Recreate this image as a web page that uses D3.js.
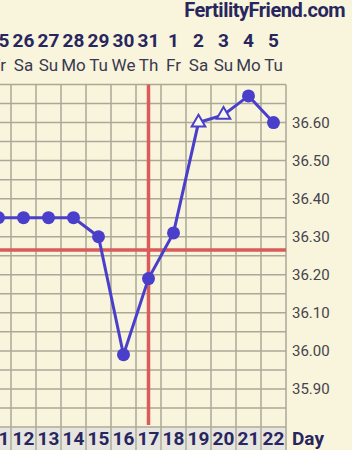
<!DOCTYPE html>
<html>
<head>
<meta charset="utf-8">
<script src="https://cdn.jsdelivr.net/npm/d3@7"></script>
<style>
  html, body { margin: 0; padding: 0; background: #f9f4dc; }
  svg { display: block; font-family: Roboto, "Noto Sans", sans-serif; }
</style>
</head>
<body>
<div id="chart"></div>
<script>
// chart data
var days = [11, 12, 13, 14, 15, 16, 17, 18, 19, 20, 21, 22];
var dates = ["25", "26", "27", "28", "29", "30", "31", "1", "2", "3", "4", "5"];
var weekdays = ["Fr", "Sa", "Su", "Mo", "Tu", "We", "Th", "Fr", "Sa", "Su", "Mo", "Tu"];
var temps = [36.35, 36.35, 36.35, 36.35, 36.30, 35.99, 36.19, 36.31, 36.60, 36.62, 36.67, 36.60];
var markers = ["circle", "circle", "circle", "circle", "circle", "circle", "circle", "circle", "triangle", "triangle", "circle", "circle"];
var yTicks = [35.90, 36.00, 36.10, 36.20, 36.30, 36.40, 36.50, 36.60];
var coverLine = 36.265;
var ovulationDay = 17;

var width = 352, height = 450;
var plot = {left: -14, right: 286, top: 84.5, bottom: 427};

var svg = d3.select("#chart").append("svg")
    .attr("width", width)
    .attr("height", height);

svg.append("rect")
    .attr("width", width)
    .attr("height", height)
    .attr("fill", "#f9f4dc");

var x = d3.scaleLinear()
    .domain([10.5, 22.5])
    .range([plot.left, plot.right]);

var y = d3.scaleLinear()
    .domain([35.8, 36.7])
    .range([plot.bottom, plot.top]);

// grid
var grid = svg.append("g")
    .attr("stroke", "#aba898")
    .attr("stroke-width", 1.5);

grid.selectAll(".vline")
    .data(d3.range(10.5, 23.5, 1))
    .enter().append("line")
    .attr("class", "vline")
    .attr("x1", function(d) { return x(d); })
    .attr("x2", function(d) { return x(d); })
    .attr("y1", plot.top)
    .attr("y2", height);

grid.selectAll(".hline")
    .data(d3.range(0, 19).map(function(i) { return 35.8 + i * 0.05; }))
    .enter().append("line")
    .attr("class", "hline")
    .attr("x1", 0)
    .attr("x2", plot.right)
    .attr("y1", function(d) { return y(d); })
    .attr("y2", function(d) { return y(d); });

// day row at bottom
var dayRow = svg.append("g");
dayRow.selectAll("rect")
    .data(days)
    .enter().append("rect")
    .attr("x", function(d) { return x(d - 0.5) + 1; })
    .attr("y", plot.bottom + 1)
    .attr("width", x(1) - x(0) - 2)
    .attr("height", height - plot.bottom)
    .attr("fill", "#e6e5df");

dayRow.selectAll("text")
    .data(days)
    .enter().append("text")
    .attr("x", function(d) { return x(d); })
    .attr("y", 445)
    .attr("text-anchor", "middle")
    .attr("font-size", 19)
    .attr("font-weight", "bold")
    .attr("fill", "#27265e")
    .text(function(d) { return d; });

svg.append("text")
    .attr("x", 292)
    .attr("y", 445)
    .attr("font-size", 19)
    .attr("font-weight", "bold")
    .attr("fill", "#27265e")
    .text("Day");

// y axis labels
var yAxis = d3.axisRight(y)
    .tickValues(yTicks)
    .tickSize(0)
    .tickPadding(6)
    .tickFormat(d3.format(".2f"));

svg.append("g")
    .attr("class", "y-axis")
    .attr("transform", "translate(" + plot.right + ",0)")
    .call(yAxis)
    .call(function(g) { g.select(".domain").remove(); })
    .selectAll("text")
    .attr("font-size", 15)
    .attr("font-family", "Roboto, sans-serif")
    .attr("fill", "#45444c");

// top header
svg.selectAll(".date")
    .data(days)
    .enter().append("text")
    .attr("class", "date")
    .attr("x", function(d) { return x(d); })
    .attr("y", 47)
    .attr("text-anchor", "middle")
    .attr("font-size", 19)
    .attr("font-weight", "bold")
    .attr("fill", "#27265e")
    .text(function(d, i) { return dates[i]; });

svg.selectAll(".wday")
    .data(days)
    .enter().append("text")
    .attr("class", "wday")
    .attr("x", function(d) { return x(d); })
    .attr("y", 71)
    .attr("text-anchor", "middle")
    .attr("font-size", 17)
    .attr("fill", "#3a3950")
    .text(function(d, i) { return weekdays[i]; });

svg.append("text")
    .attr("x", 345)
    .attr("y", 17)
    .attr("text-anchor", "end")
    .attr("font-size", 20)
    .attr("font-weight", "bold")
    .attr("letter-spacing", -0.5)
    .attr("fill", "#27265e")
    .text("FertilityFriend.com");

// cover line and ovulation line
svg.append("line")
    .attr("x1", 0)
    .attr("x2", plot.right)
    .attr("y1", y(coverLine))
    .attr("y2", y(coverLine))
    .attr("stroke", "#d95c5a")
    .attr("stroke-width", 3.5);

svg.append("line")
    .attr("x1", x(ovulationDay))
    .attr("x2", x(ovulationDay))
    .attr("y1", plot.top)
    .attr("y2", plot.bottom - 2)
    .attr("stroke", "#d95c5a")
    .attr("stroke-width", 3.5);

// temperature line
var pts = days.map(function(d, i) {
    return {day: d, temp: temps[i], marker: markers[i]};
});

var line = d3.line()
    .x(function(d) { return x(d.day); })
    .y(function(d) { return y(d.temp); });

svg.append("path")
    .datum(pts)
    .attr("d", line)
    .attr("fill", "none")
    .attr("stroke", "#4a3fcb")
    .attr("stroke-width", 3);

svg.selectAll(".dot")
    .data(pts.filter(function(d) { return d.marker == "circle"; }))
    .enter().append("circle")
    .attr("class", "dot")
    .attr("cx", function(d) { return x(d.day); })
    .attr("cy", function(d) { return y(d.temp); })
    .attr("r", 6.5)
    .attr("fill", "#4a3fcb");

svg.selectAll(".tri")
    .data(pts.filter(function(d) { return d.marker == "triangle"; }))
    .enter().append("path")
    .attr("class", "tri")
    .attr("transform", function(d) { return "translate(" + x(d.day) + "," + y(d.temp) + ")"; })
    .attr("d", d3.symbol().type(d3.symbolTriangle).size(80))
    .attr("fill", "#fbf8ec")
    .attr("stroke", "#4a3fcb")
    .attr("stroke-width", 2);
</script>
</body>
</html>
